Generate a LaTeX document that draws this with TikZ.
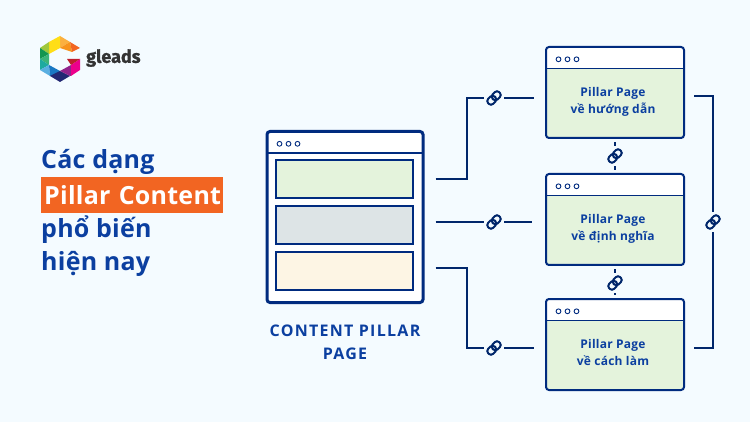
\documentclass[tikz,border=0pt]{standalone}
\usepackage{fontspec}
\setmainfont{Open Sans}
\newfontfamily\logofont[FakeBold=1.2]{Fira Sans}
\definecolor{pagebg}{HTML}{F4FBFF}
\definecolor{navy}{HTML}{002B7F}
\definecolor{linknavy}{HTML}{00266B}
\definecolor{textblue}{HTML}{0B3FA0}
\definecolor{orangebar}{HTML}{F26522}
\definecolor{boxgreen}{HTML}{E4F3DC}
\definecolor{boxgrey}{HTML}{DDE4E6}
\definecolor{boxcream}{HTML}{FDF5E4}
\tikzset{
	windowbox/.style = {draw = navy, rounded corners = 3pt, inner sep = 0pt, path picture = {
		\fill[white] (path picture bounding box.north west) rectangle ([yshift = -21.5pt]path picture bounding box.north east);
		\draw[navy, line width = 1.2pt] ([yshift = -21.5pt]path picture bounding box.north west) -- ([yshift = -21.5pt]path picture bounding box.north east);
		\draw[navy, line width = 0.9pt] ([shift = {(12.5pt, -12.3pt)}]path picture bounding box.north west) circle (2.4pt);
		\draw[navy, line width = 0.9pt] ([shift = {(21.5pt, -12.3pt)}]path picture bounding box.north west) circle (2.4pt);
		\draw[navy, line width = 0.9pt] ([shift = {(30.5pt, -12.3pt)}]path picture bounding box.north west) circle (2.4pt);
	}},
	pagebox/.style = {windowbox, fill = boxgreen, line width = 2pt, minimum width = 138pt, minimum height = 91pt},
	innerbox/.style = {draw = navy, line width = 2pt, minimum width = 137pt, minimum height = 38pt, inner sep = 0pt},
	pagetext/.style = {text = textblue, font = \fontsize{12}{17}\selectfont\bfseries\addfontfeature{LetterSpace=2}, align = center, inner sep = 0pt},
	titletext/.style = {anchor = west, inner sep = 0pt, text = textblue, font = \fontsize{25}{25}\selectfont\bfseries\addfontfeature{LetterSpace=1}},
	linkline/.style = {draw = linknavy, line width = 2pt},
	linkspot/.style = {circle, minimum size = 20pt, inner sep = 0pt},
	linkicon/.pic = {
		\draw[rotate = 45, linknavy, line width = 2pt, rounded corners = 3pt] (1.5pt, -3.5pt) rectangle (-7.8pt, 3.5pt);
		\draw[rotate = 45, linknavy, line width = 2pt, rounded corners = 3pt] (-1.5pt, -3.5pt) rectangle (7.8pt, 3.5pt);
	},
	tri/.style = {line width = 0.1pt}
}
\begin{document}
\begin{tikzpicture}[x = 1pt, y = -1pt]
	\useasboundingbox[fill = pagebg] (0, 0) rectangle (750, 422);
	% logo
	\fill[tri, fill = {rgb,255:red,251;green,176;blue,64}] (60, 36) -- (70, 42) -- (60, 48) -- cycle;
	\fill[tri, fill = {rgb,255:red,247;green,148;blue,29}] (70, 42) -- (72, 52) -- (60, 48) -- cycle;
	\fill[tri, fill = {rgb,255:red,242;green,101;blue,34}] (70, 42) -- (80, 48) -- (72, 52) -- cycle;
	\fill[tri, fill = {rgb,255:red,255;green,222;blue,23}] (60, 36) -- (60, 48) -- (49, 54) -- (49, 42) -- cycle;
	\fill[tri, fill = {rgb,255:red,160;green,200;blue,60}] (49, 42) -- (49, 54) -- (40, 48) -- cycle;
	\fill[tri, fill = {rgb,255:red,20;green,150;blue,80}] (40, 48) -- (49, 54) -- (40, 59) -- cycle;
	\fill[tri, fill = {rgb,255:red,60;green,180;blue,120}] (49, 54) -- (49, 65) -- (40, 59) -- cycle;
	\fill[tri, fill = {rgb,255:red,30;green,170;blue,160}] (40, 59) -- (49, 65) -- (40, 70) -- cycle;
	\fill[tri, fill = {rgb,255:red,90;green,175;blue,225}] (40, 70) -- (49, 65) -- (50, 76) -- cycle;
	\fill[tri, fill = {rgb,255:red,25;green,120;blue,195}] (49, 65) -- (60, 71) -- (60, 76) -- (50, 76) -- cycle;
	\fill[tri, fill = {rgb,255:red,35;green,40;blue,115}] (50, 76) -- (60, 71) -- (70, 76) -- (60, 82) -- cycle;
	\fill[tri, fill = {rgb,255:red,145;green,35;blue,140}] (60, 71) -- (71, 65) -- (71, 76) -- (70, 76) -- cycle;
	\fill[tri, fill = {rgb,255:red,236;green,0;blue,140}] (71, 65) -- (80, 59) -- (80, 70) -- (71, 76) -- cycle;
	\fill[tri, fill = {rgb,255:red,190;green,30;blue,45}] (67, 59) -- (80, 59) -- (71, 65) -- cycle;
	\node[anchor = west, inner sep = 0pt, text = {rgb,255:red,51;green,51;blue,51}, font = \logofont\fontsize{18}{19}\selectfont\bfseries] (logotext) at (86, 58) {gleads};
	% title
	\node[titletext] (title1) at (41, 162) {Các dạng};
	\node[titletext, fill = orangebar, text = white, text width = 182pt, minimum height = 36pt, align = left] (title2) at (41, 195) {\hspace{3pt}Pillar Content};
	\node[titletext] (title3) at (41, 230) {phổ biến};
	\node[titletext] (title4) at (41, 264) {hiện nay};
	% main window
	\node[windowbox, fill = white, line width = 3pt, minimum width = 156pt, minimum height = 171pt] (main) at (345, 217) {};
	\node[innerbox, fill = boxgreen] (box1) at (344.5, 179) {};
	\node[innerbox, fill = boxgrey] (box2) at (344.5, 225) {};
	\node[innerbox, fill = boxcream] (box3) at (344.5, 271) {};
	\node[text = textblue, font = \fontsize{16}{23}\selectfont\bfseries\addfontfeature{LetterSpace=8}, align = center, inner sep = 0pt] (maintext) at (345, 342) {CONTENT PILLAR\\PAGE};
	% pillar pages
	\node[pagebox] (p1) at (615, 92.5) {};
	\node[pagebox] (p2) at (615, 219.5) {};
	\node[pagebox] (p3) at (615, 344.5) {};
	\node[pagetext] (t1) at (613, 102) {Pillar Page\\về hướng dẫn};
	\node[pagetext] (t2) at (613, 229) {Pillar Page\\về định nghĩa};
	\node[pagetext] (t3) at (613, 352) {Pillar Page\\về cách làm};
	% link icons
	\node[linkspot] (l1) at (494, 98) {};
	\node[linkspot] (l2) at (494, 222) {};
	\node[linkspot] (l3) at (494, 348) {};
	\node[linkspot] (l4) at (615, 156) {};
	\node[linkspot] (l5) at (615, 283) {};
	\node[linkspot] (l6) at (713, 222) {};
	\pic at (l1) {linkicon};
	\pic at (l2) {linkicon};
	\pic at (l3) {linkicon};
	\pic at (l4) {linkicon};
	\pic at (l5) {linkicon};
	\pic at (l6) {linkicon};
	% connectors
	\draw[linkline, shorten <= 11pt] (box1.east -| main.east) -- (467, 179) |- (l1);
	\draw[linkline, shorten <= 11pt] (l2 -| main.east) -- (l2);
	\draw[linkline, shorten <= 11pt] ([yshift = 3pt]box3.east -| main.east) -- (467, 268) |- (l3);
	\draw[linkline, shorten > = 11pt] (l1) -- (l1 -| p1.west);
	\draw[linkline, shorten > = 13pt] (l2) -- (l2 -| p2.west);
	\draw[linkline, shorten > = 11pt] (l3) -- (l3 -| p3.west);
	\draw[linkline, shorten > = 3pt] (l4) -- (p1);
	\draw[linkline, shorten > = 3pt] (l4) -- (p2);
	\draw[linkline, shorten > = 3pt] (l5) -- (p2);
	\draw[linkline, shorten > = 3pt] (l5) -- (p3);
	\draw[linkline, shorten > = 9pt] (l6) |- (p1.east |- 0, 96);
	\draw[linkline, shorten > = 9pt] (l6) |- (p3.east |- l3);
\end{tikzpicture}
\end{document}
